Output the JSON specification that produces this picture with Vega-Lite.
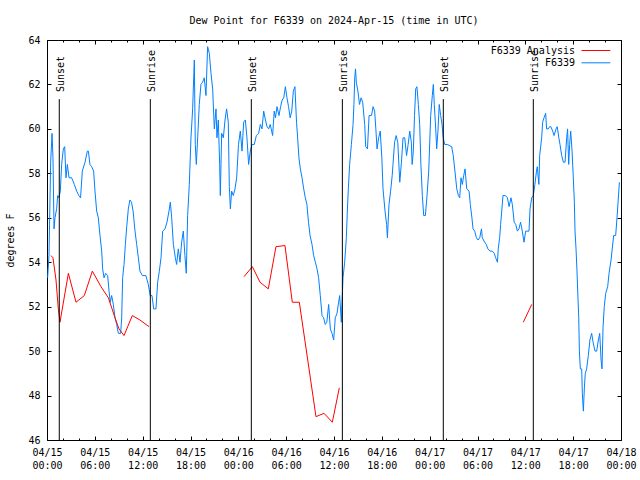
{
  "$schema": "https://vega.github.io/schema/vega-lite/v6.json",
  "width": 574,
  "height": 400,
  "autosize": {"type": "none"},
  "padding": {"left": 47, "top": 40, "right": 19, "bottom": 40},
  "background": "white",
  "title": {"text": "Dew Point for F6339 on 2024-Apr-15 (time in UTC)", "font": "DejaVu Sans Mono", "fontSize": 10, "fontWeight": "normal", "anchor": "middle", "baseline": "alphabetic", "offset": 1, "color": "black"},
  "config": {
    "view": {"stroke": "black", "strokeWidth": 1},
    "font": "DejaVu Sans Mono",
    "axis": {"domain": false, "grid": false, "tickColor": "black", "tickWidth": 1, "labelColor": "black", "titleColor": "black", "labelFont": "DejaVu Sans Mono", "labelFontSize": 10, "titleFont": "DejaVu Sans Mono", "titleFontSize": 10, "titleFontWeight": "normal", "labelOverlap": false}
  },
  "datasets": {
    "sun": [
      {"event": "Sunset", "hour": 1.54},
      {"event": "Sunrise", "hour": 12.96},
      {"event": "Sunset", "hour": 25.63},
      {"event": "Sunrise", "hour": 37.05},
      {"event": "Sunset", "hour": 49.71},
      {"event": "Sunrise", "hour": 61.0}
    ],
    "analysis": [
      {"segment": 1, "hour": 0.5, "dewpoint": 54.3},
      {"segment": 1, "hour": 0.75, "dewpoint": 54.2},
      {"segment": 1, "hour": 1.13, "dewpoint": 53.2},
      {"segment": 1, "hour": 1.42, "dewpoint": 51.9},
      {"segment": 1, "hour": 1.63, "dewpoint": 51.3},
      {"segment": 1, "hour": 2.68, "dewpoint": 53.5},
      {"segment": 1, "hour": 3.64, "dewpoint": 52.2},
      {"segment": 1, "hour": 4.68, "dewpoint": 52.5},
      {"segment": 1, "hour": 5.69, "dewpoint": 53.6},
      {"segment": 1, "hour": 6.77, "dewpoint": 52.9},
      {"segment": 1, "hour": 7.7, "dewpoint": 52.4},
      {"segment": 1, "hour": 8.53, "dewpoint": 51.5},
      {"segment": 1, "hour": 9.03, "dewpoint": 51.0},
      {"segment": 1, "hour": 9.66, "dewpoint": 50.7},
      {"segment": 1, "hour": 10.7, "dewpoint": 51.6},
      {"segment": 1, "hour": 11.66, "dewpoint": 51.4},
      {"segment": 1, "hour": 12.8, "dewpoint": 51.1},
      {"segment": 2, "hour": 24.71, "dewpoint": 53.35},
      {"segment": 2, "hour": 25.76, "dewpoint": 53.8},
      {"segment": 2, "hour": 26.72, "dewpoint": 53.1},
      {"segment": 2, "hour": 27.76, "dewpoint": 52.8},
      {"segment": 2, "hour": 28.72, "dewpoint": 54.7},
      {"segment": 2, "hour": 29.85, "dewpoint": 54.75},
      {"segment": 2, "hour": 30.77, "dewpoint": 52.2},
      {"segment": 2, "hour": 31.65, "dewpoint": 52.2},
      {"segment": 2, "hour": 33.74, "dewpoint": 47.05},
      {"segment": 2, "hour": 34.75, "dewpoint": 47.2},
      {"segment": 2, "hour": 35.79, "dewpoint": 46.8},
      {"segment": 2, "hour": 36.67, "dewpoint": 48.35},
      {"segment": 3, "hour": 59.75, "dewpoint": 51.3},
      {"segment": 3, "hour": 60.8, "dewpoint": 52.1}
    ],
    "station": [
      {"hour": 0.08, "dewpoint": 53.3}, {"hour": 0.25, "dewpoint": 54.3}, {"hour": 0.46, "dewpoint": 58.5}, {"hour": 0.63, "dewpoint": 59.8},
      {"hour": 0.75, "dewpoint": 58.7}, {"hour": 0.88, "dewpoint": 55.5}, {"hour": 1.0, "dewpoint": 56.0}, {"hour": 1.21, "dewpoint": 56.4},
      {"hour": 1.34, "dewpoint": 57.0}, {"hour": 1.5, "dewpoint": 56.9}, {"hour": 1.67, "dewpoint": 57.2}, {"hour": 1.84, "dewpoint": 58.4},
      {"hour": 2.05, "dewpoint": 59.1}, {"hour": 2.22, "dewpoint": 59.2}, {"hour": 2.38, "dewpoint": 57.8}, {"hour": 2.55, "dewpoint": 58.4},
      {"hour": 2.76, "dewpoint": 57.8}, {"hour": 3.09, "dewpoint": 57.8}, {"hour": 3.43, "dewpoint": 57.5}, {"hour": 3.72, "dewpoint": 57.2},
      {"hour": 4.0, "dewpoint": 57.0}, {"hour": 4.21, "dewpoint": 56.9}, {"hour": 4.43, "dewpoint": 58.1}, {"hour": 4.77, "dewpoint": 58.5},
      {"hour": 5.06, "dewpoint": 59.0}, {"hour": 5.19, "dewpoint": 59.0}, {"hour": 5.39, "dewpoint": 58.4}, {"hour": 5.6, "dewpoint": 58.3},
      {"hour": 5.85, "dewpoint": 58.1}, {"hour": 6.02, "dewpoint": 57.2}, {"hour": 6.23, "dewpoint": 56.3}, {"hour": 6.44, "dewpoint": 56.0},
      {"hour": 6.65, "dewpoint": 55.2}, {"hour": 6.86, "dewpoint": 54.5}, {"hour": 6.98, "dewpoint": 53.7}, {"hour": 7.15, "dewpoint": 53.3},
      {"hour": 7.36, "dewpoint": 53.5}, {"hour": 7.61, "dewpoint": 53.4}, {"hour": 7.78, "dewpoint": 52.7}, {"hour": 7.94, "dewpoint": 52.2},
      {"hour": 8.11, "dewpoint": 52.5}, {"hour": 8.32, "dewpoint": 52.1}, {"hour": 8.53, "dewpoint": 51.5}, {"hour": 8.74, "dewpoint": 51.2},
      {"hour": 8.95, "dewpoint": 50.8}, {"hour": 9.24, "dewpoint": 50.8}, {"hour": 9.37, "dewpoint": 51.5}, {"hour": 9.49, "dewpoint": 53.3},
      {"hour": 9.66, "dewpoint": 53.9}, {"hour": 9.83, "dewpoint": 54.8}, {"hour": 10.0, "dewpoint": 55.6}, {"hour": 10.2, "dewpoint": 56.4},
      {"hour": 10.4, "dewpoint": 56.8}, {"hour": 10.6, "dewpoint": 56.7}, {"hour": 10.8, "dewpoint": 56.3}, {"hour": 11.04, "dewpoint": 55.4},
      {"hour": 11.25, "dewpoint": 54.8}, {"hour": 11.46, "dewpoint": 54.2}, {"hour": 11.66, "dewpoint": 53.6}, {"hour": 11.96, "dewpoint": 53.4},
      {"hour": 12.4, "dewpoint": 53.4}, {"hour": 12.71, "dewpoint": 53.0}, {"hour": 12.95, "dewpoint": 52.5}, {"hour": 13.17, "dewpoint": 52.5},
      {"hour": 13.38, "dewpoint": 51.9}, {"hour": 13.67, "dewpoint": 51.9}, {"hour": 13.88, "dewpoint": 53.1}, {"hour": 14.09, "dewpoint": 53.6},
      {"hour": 14.3, "dewpoint": 54.2}, {"hour": 14.51, "dewpoint": 55.4}, {"hour": 14.8, "dewpoint": 55.5}, {"hour": 15.05, "dewpoint": 55.8},
      {"hour": 15.3, "dewpoint": 56.3}, {"hour": 15.47, "dewpoint": 56.7}, {"hour": 15.64, "dewpoint": 56.0}, {"hour": 15.85, "dewpoint": 54.8},
      {"hour": 16.1, "dewpoint": 54.2}, {"hour": 16.26, "dewpoint": 53.9}, {"hour": 16.47, "dewpoint": 54.6}, {"hour": 16.68, "dewpoint": 54.0},
      {"hour": 16.89, "dewpoint": 54.9}, {"hour": 17.1, "dewpoint": 55.4}, {"hour": 17.3, "dewpoint": 54.3}, {"hour": 17.47, "dewpoint": 53.5},
      {"hour": 17.64, "dewpoint": 56.1}, {"hour": 17.85, "dewpoint": 57.5}, {"hour": 18.06, "dewpoint": 59.6}, {"hour": 18.27, "dewpoint": 60.9},
      {"hour": 18.4, "dewpoint": 62.3}, {"hour": 18.48, "dewpoint": 63.1}, {"hour": 18.6, "dewpoint": 59.3}, {"hour": 18.73, "dewpoint": 58.4},
      {"hour": 18.9, "dewpoint": 59.6}, {"hour": 19.1, "dewpoint": 61.1}, {"hour": 19.31, "dewpoint": 62.0}, {"hour": 19.52, "dewpoint": 62.1},
      {"hour": 19.73, "dewpoint": 62.3}, {"hour": 19.94, "dewpoint": 61.5}, {"hour": 20.15, "dewpoint": 63.7}, {"hour": 20.36, "dewpoint": 63.4},
      {"hour": 20.57, "dewpoint": 62.5}, {"hour": 20.78, "dewpoint": 61.8}, {"hour": 20.99, "dewpoint": 60.0}, {"hour": 21.2, "dewpoint": 60.9},
      {"hour": 21.32, "dewpoint": 59.6}, {"hour": 21.49, "dewpoint": 60.4}, {"hour": 21.66, "dewpoint": 58.4}, {"hour": 21.74, "dewpoint": 57.0},
      {"hour": 21.91, "dewpoint": 59.8}, {"hour": 22.12, "dewpoint": 59.6}, {"hour": 22.33, "dewpoint": 60.4}, {"hour": 22.53, "dewpoint": 60.9},
      {"hour": 22.74, "dewpoint": 60.3}, {"hour": 22.87, "dewpoint": 57.4}, {"hour": 23.0, "dewpoint": 56.4}, {"hour": 23.16, "dewpoint": 57.2},
      {"hour": 23.37, "dewpoint": 57.0}, {"hour": 23.58, "dewpoint": 57.3}, {"hour": 23.79, "dewpoint": 57.8}, {"hour": 24.02, "dewpoint": 59.3},
      {"hour": 24.25, "dewpoint": 59.9}, {"hour": 24.46, "dewpoint": 59.0}, {"hour": 24.67, "dewpoint": 60.3}, {"hour": 24.88, "dewpoint": 60.4},
      {"hour": 25.08, "dewpoint": 59.6}, {"hour": 25.29, "dewpoint": 58.4}, {"hour": 25.5, "dewpoint": 59.0}, {"hour": 25.71, "dewpoint": 59.3},
      {"hour": 26.0, "dewpoint": 59.3}, {"hour": 26.26, "dewpoint": 59.7}, {"hour": 26.55, "dewpoint": 59.8}, {"hour": 26.76, "dewpoint": 60.2},
      {"hour": 26.97, "dewpoint": 60.0}, {"hour": 27.18, "dewpoint": 60.8}, {"hour": 27.4, "dewpoint": 60.4}, {"hour": 27.6, "dewpoint": 60.1},
      {"hour": 27.8, "dewpoint": 60.0}, {"hour": 28.0, "dewpoint": 60.2}, {"hour": 28.3, "dewpoint": 59.7}, {"hour": 28.5, "dewpoint": 60.8},
      {"hour": 28.66, "dewpoint": 60.5}, {"hour": 28.85, "dewpoint": 61.0}, {"hour": 29.1, "dewpoint": 60.6}, {"hour": 29.3, "dewpoint": 61.0},
      {"hour": 29.5, "dewpoint": 61.3}, {"hour": 29.7, "dewpoint": 61.4}, {"hour": 29.9, "dewpoint": 61.9}, {"hour": 30.1, "dewpoint": 61.4},
      {"hour": 30.3, "dewpoint": 61.0}, {"hour": 30.5, "dewpoint": 60.5}, {"hour": 30.7, "dewpoint": 60.8}, {"hour": 30.9, "dewpoint": 61.7},
      {"hour": 31.1, "dewpoint": 61.9}, {"hour": 31.3, "dewpoint": 60.3}, {"hour": 31.44, "dewpoint": 59.6}, {"hour": 31.6, "dewpoint": 58.7},
      {"hour": 31.78, "dewpoint": 58.2}, {"hour": 31.99, "dewpoint": 57.8}, {"hour": 32.2, "dewpoint": 57.3}, {"hour": 32.4, "dewpoint": 56.9},
      {"hour": 32.6, "dewpoint": 56.6}, {"hour": 32.8, "dewpoint": 55.8}, {"hour": 33.0, "dewpoint": 55.2}, {"hour": 33.24, "dewpoint": 54.8},
      {"hour": 33.45, "dewpoint": 54.3}, {"hour": 33.66, "dewpoint": 54.0}, {"hour": 33.87, "dewpoint": 53.7}, {"hour": 34.07, "dewpoint": 53.3},
      {"hour": 34.28, "dewpoint": 52.5}, {"hour": 34.5, "dewpoint": 51.6}, {"hour": 34.7, "dewpoint": 51.5}, {"hour": 34.9, "dewpoint": 51.2},
      {"hour": 35.1, "dewpoint": 51.3}, {"hour": 35.33, "dewpoint": 52.1}, {"hour": 35.54, "dewpoint": 51.0}, {"hour": 35.75, "dewpoint": 50.8},
      {"hour": 35.96, "dewpoint": 50.5}, {"hour": 36.16, "dewpoint": 51.5}, {"hour": 36.38, "dewpoint": 51.7}, {"hour": 36.58, "dewpoint": 52.2},
      {"hour": 36.71, "dewpoint": 52.5}, {"hour": 36.92, "dewpoint": 51.3}, {"hour": 37.13, "dewpoint": 53.3}, {"hour": 37.34, "dewpoint": 54.0},
      {"hour": 37.55, "dewpoint": 55.1}, {"hour": 37.67, "dewpoint": 56.3}, {"hour": 37.8, "dewpoint": 57.3}, {"hour": 37.96, "dewpoint": 58.4},
      {"hour": 38.18, "dewpoint": 59.3}, {"hour": 38.39, "dewpoint": 60.2}, {"hour": 38.5, "dewpoint": 61.1}, {"hour": 38.6, "dewpoint": 62.3},
      {"hour": 38.7, "dewpoint": 62.7}, {"hour": 38.8, "dewpoint": 62.1}, {"hour": 39.0, "dewpoint": 61.7}, {"hour": 39.2, "dewpoint": 61.1},
      {"hour": 39.4, "dewpoint": 61.4}, {"hour": 39.6, "dewpoint": 61.2}, {"hour": 39.85, "dewpoint": 60.2}, {"hour": 39.98, "dewpoint": 59.2},
      {"hour": 40.2, "dewpoint": 59.1}, {"hour": 40.4, "dewpoint": 60.6}, {"hour": 40.7, "dewpoint": 60.6}, {"hour": 40.9, "dewpoint": 61.0},
      {"hour": 41.1, "dewpoint": 60.8}, {"hour": 41.25, "dewpoint": 60.0}, {"hour": 41.4, "dewpoint": 59.1}, {"hour": 41.6, "dewpoint": 59.6},
      {"hour": 41.8, "dewpoint": 59.9}, {"hour": 42.0, "dewpoint": 58.7}, {"hour": 42.15, "dewpoint": 57.3}, {"hour": 42.4, "dewpoint": 56.3},
      {"hour": 42.6, "dewpoint": 55.7}, {"hour": 42.7, "dewpoint": 55.1}, {"hour": 42.9, "dewpoint": 56.6}, {"hour": 43.1, "dewpoint": 57.2},
      {"hour": 43.3, "dewpoint": 57.9}, {"hour": 43.4, "dewpoint": 58.4}, {"hour": 43.6, "dewpoint": 59.4}, {"hour": 43.8, "dewpoint": 59.7},
      {"hour": 44.0, "dewpoint": 59.4}, {"hour": 44.25, "dewpoint": 57.6}, {"hour": 44.46, "dewpoint": 58.5}, {"hour": 44.66, "dewpoint": 59.6},
      {"hour": 44.87, "dewpoint": 59.6}, {"hour": 45.1, "dewpoint": 58.8}, {"hour": 45.3, "dewpoint": 59.3}, {"hour": 45.5, "dewpoint": 59.9},
      {"hour": 45.7, "dewpoint": 59.4}, {"hour": 45.8, "dewpoint": 58.4}, {"hour": 45.95, "dewpoint": 59.0}, {"hour": 46.1, "dewpoint": 60.6},
      {"hour": 46.25, "dewpoint": 61.8}, {"hour": 46.4, "dewpoint": 61.9}, {"hour": 46.58, "dewpoint": 61.1}, {"hour": 46.75, "dewpoint": 60.2},
      {"hour": 46.9, "dewpoint": 58.4}, {"hour": 47.08, "dewpoint": 57.0}, {"hour": 47.25, "dewpoint": 56.1}, {"hour": 47.46, "dewpoint": 56.1},
      {"hour": 47.67, "dewpoint": 57.0}, {"hour": 47.88, "dewpoint": 58.1}, {"hour": 48.13, "dewpoint": 60.6}, {"hour": 48.33, "dewpoint": 61.5},
      {"hour": 48.46, "dewpoint": 62.0}, {"hour": 48.58, "dewpoint": 61.1}, {"hour": 48.76, "dewpoint": 60.0}, {"hour": 48.88, "dewpoint": 59.1},
      {"hour": 49.04, "dewpoint": 59.9}, {"hour": 49.2, "dewpoint": 61.1}, {"hour": 49.38, "dewpoint": 60.6}, {"hour": 49.55, "dewpoint": 60.2},
      {"hour": 49.7, "dewpoint": 59.6}, {"hour": 49.88, "dewpoint": 59.3}, {"hour": 50.2, "dewpoint": 59.3}, {"hour": 50.76, "dewpoint": 59.2},
      {"hour": 50.96, "dewpoint": 58.8}, {"hour": 51.17, "dewpoint": 58.1}, {"hour": 51.4, "dewpoint": 57.3}, {"hour": 51.6, "dewpoint": 57.0},
      {"hour": 51.77, "dewpoint": 56.9}, {"hour": 51.93, "dewpoint": 57.8}, {"hour": 52.1, "dewpoint": 57.5}, {"hour": 52.27, "dewpoint": 57.9},
      {"hour": 52.44, "dewpoint": 58.2}, {"hour": 52.65, "dewpoint": 57.3}, {"hour": 52.94, "dewpoint": 57.2}, {"hour": 53.1, "dewpoint": 56.6},
      {"hour": 53.3, "dewpoint": 56.0}, {"hour": 53.44, "dewpoint": 55.5}, {"hour": 53.65, "dewpoint": 55.4}, {"hour": 53.86, "dewpoint": 55.1},
      {"hour": 54.07, "dewpoint": 55.0}, {"hour": 54.28, "dewpoint": 55.1}, {"hour": 54.5, "dewpoint": 55.5}, {"hour": 54.6, "dewpoint": 55.1},
      {"hour": 54.9, "dewpoint": 54.9}, {"hour": 55.1, "dewpoint": 54.8}, {"hour": 55.3, "dewpoint": 54.6}, {"hour": 55.57, "dewpoint": 54.5},
      {"hour": 55.86, "dewpoint": 54.5}, {"hour": 56.1, "dewpoint": 54.4}, {"hour": 56.28, "dewpoint": 54.2}, {"hour": 56.5, "dewpoint": 54.0},
      {"hour": 56.6, "dewpoint": 54.6}, {"hour": 56.78, "dewpoint": 55.1}, {"hour": 56.9, "dewpoint": 55.7}, {"hour": 57.04, "dewpoint": 56.3},
      {"hour": 57.2, "dewpoint": 57.0}, {"hour": 57.5, "dewpoint": 57.0}, {"hour": 57.75, "dewpoint": 56.9}, {"hour": 57.96, "dewpoint": 56.5},
      {"hour": 58.2, "dewpoint": 56.9}, {"hour": 58.37, "dewpoint": 56.6}, {"hour": 58.6, "dewpoint": 55.8}, {"hour": 58.8, "dewpoint": 55.7},
      {"hour": 59.0, "dewpoint": 55.4}, {"hour": 59.2, "dewpoint": 55.5}, {"hour": 59.4, "dewpoint": 55.8}, {"hour": 59.62, "dewpoint": 55.4},
      {"hour": 59.83, "dewpoint": 54.9}, {"hour": 60.04, "dewpoint": 55.4}, {"hour": 60.46, "dewpoint": 55.4}, {"hour": 60.59, "dewpoint": 56.4},
      {"hour": 60.8, "dewpoint": 56.9}, {"hour": 61.0, "dewpoint": 57.0}, {"hour": 61.2, "dewpoint": 57.5}, {"hour": 61.4, "dewpoint": 58.1},
      {"hour": 61.5, "dewpoint": 58.3}, {"hour": 61.7, "dewpoint": 57.5}, {"hour": 61.8, "dewpoint": 58.8}, {"hour": 62.05, "dewpoint": 59.6},
      {"hour": 62.17, "dewpoint": 60.3}, {"hour": 62.34, "dewpoint": 60.5}, {"hour": 62.55, "dewpoint": 60.7}, {"hour": 62.67, "dewpoint": 60.0},
      {"hour": 62.88, "dewpoint": 60.0}, {"hour": 63.05, "dewpoint": 60.1}, {"hour": 63.2, "dewpoint": 60.1}, {"hour": 63.43, "dewpoint": 59.9},
      {"hour": 63.6, "dewpoint": 59.7}, {"hour": 63.85, "dewpoint": 60.0}, {"hour": 64.0, "dewpoint": 60.1}, {"hour": 64.2, "dewpoint": 59.6},
      {"hour": 64.35, "dewpoint": 59.3}, {"hour": 64.56, "dewpoint": 58.8}, {"hour": 64.77, "dewpoint": 58.5}, {"hour": 64.98, "dewpoint": 58.5},
      {"hour": 65.19, "dewpoint": 59.6}, {"hour": 65.3, "dewpoint": 60.0}, {"hour": 65.44, "dewpoint": 58.4}, {"hour": 65.56, "dewpoint": 59.3},
      {"hour": 65.69, "dewpoint": 59.9}, {"hour": 65.86, "dewpoint": 59.0}, {"hour": 66.02, "dewpoint": 57.8}, {"hour": 66.15, "dewpoint": 56.7},
      {"hour": 66.23, "dewpoint": 55.4}, {"hour": 66.36, "dewpoint": 54.6}, {"hour": 66.48, "dewpoint": 53.6}, {"hour": 66.57, "dewpoint": 52.7},
      {"hour": 66.7, "dewpoint": 51.5}, {"hour": 66.78, "dewpoint": 50.0}, {"hour": 66.9, "dewpoint": 49.2}, {"hour": 67.07, "dewpoint": 49.2},
      {"hour": 67.15, "dewpoint": 48.1}, {"hour": 67.28, "dewpoint": 47.3}, {"hour": 67.4, "dewpoint": 48.3}, {"hour": 67.52, "dewpoint": 49.0},
      {"hour": 67.69, "dewpoint": 49.2}, {"hour": 67.9, "dewpoint": 49.8}, {"hour": 68.1, "dewpoint": 50.5}, {"hour": 68.32, "dewpoint": 50.8},
      {"hour": 68.5, "dewpoint": 50.4}, {"hour": 68.74, "dewpoint": 50.0}, {"hour": 68.95, "dewpoint": 50.0}, {"hour": 69.16, "dewpoint": 50.5},
      {"hour": 69.33, "dewpoint": 50.8}, {"hour": 69.5, "dewpoint": 49.6}, {"hour": 69.62, "dewpoint": 49.2}, {"hour": 69.75, "dewpoint": 51.1},
      {"hour": 69.9, "dewpoint": 52.0}, {"hour": 70.08, "dewpoint": 52.6}, {"hour": 70.33, "dewpoint": 52.9}, {"hour": 70.5, "dewpoint": 53.5},
      {"hour": 70.75, "dewpoint": 54.1}, {"hour": 70.9, "dewpoint": 54.6}, {"hour": 71.08, "dewpoint": 55.2}, {"hour": 71.33, "dewpoint": 55.2},
      {"hour": 71.5, "dewpoint": 56.0}, {"hour": 71.63, "dewpoint": 56.7}, {"hour": 71.8, "dewpoint": 57.6}
    ]
  },
  "layer": [
    {
      "data": {"name": "station"},
      "mark": {"type": "line", "strokeWidth": 1, "clip": true},
      "encoding": {
        "x": {"field": "hour", "type": "quantitative", "scale": {"domain": [0, 72], "nice": false, "zero": false},
              "axis": {"orient": "bottom", "title": null, "values": [0, 6, 12, 18, 24, 30, 36, 42, 48, 54, 60, 66, 72], "tickSize": -4, "labelPadding": 11, "labelBaseline": "top", "labelLineHeight": 13.5, "labelFlush": false,
                       "labelExpr": "['04/' + (15 + floor(datum.value / 24)), (datum.value % 24 < 10 ? '0' : '') + (datum.value % 24) + ':00']"}},
        "y": {"field": "dewpoint", "type": "quantitative", "scale": {"domain": [46, 64], "nice": false, "zero": false},
              "axis": {"orient": "left", "title": "degrees F", "values": [46, 48, 50, 52, 54, 56, 58, 60, 62, 64], "tickSize": -4, "labelPadding": 11, "titlePadding": 12}},
        "color": {"datum": "F6339", "scale": {"domain": ["F6339 Analysis", "F6339"], "range": ["#ff0000", "#0080ff"]},
                  "legend": {"orient": "none", "legendX": 542.4, "legendY": 4, "title": null, "symbolType": "M-2.4,0H2.4", "symbolSize": 144, "symbolStrokeWidth": 1, "labelAlign": "right", "labelOffset": -27.4, "padding": 0, "rowPadding": 0.3, "labelFont": "DejaVu Sans Mono", "labelFontSize": 10, "labelColor": "black"}}
      }
    },
    {
      "data": {"name": "analysis"},
      "mark": {"type": "line", "strokeWidth": 1, "clip": true},
      "encoding": {
        "x": {"field": "hour", "type": "quantitative",
              "axis": {"orient": "top", "title": null, "values": [0, 2, 4, 6, 8, 10, 12, 14, 16, 18, 20, 22, 24, 26, 28, 30, 32, 34, 36, 38, 40, 42, 44, 46, 48, 50, 52, 54, 56, 58, 60, 62, 64, 66, 68, 70, 72], "tickSize": -2, "labels": false}},
        "y": {"field": "dewpoint", "type": "quantitative", "axis": null},
        "detail": {"field": "segment", "type": "nominal"},
        "color": {"datum": "F6339 Analysis"}
      }
    },
    {
      "data": {"name": "sun"},
      "mark": {"type": "rule", "color": "black", "strokeWidth": 1},
      "encoding": {
        "x": {"field": "hour", "type": "quantitative",
              "axis": {"orient": "top", "title": null, "values": [0, 6, 12, 18, 24, 30, 36, 42, 48, 54, 60, 66, 72], "tickSize": -4, "labels": false}},
        "y": {"datum": 61.34, "type": "quantitative", "axis": {"orient": "right", "title": null, "values": [46, 48, 50, 52, 54, 56, 58, 60, 62, 64], "tickSize": -4, "labels": false}},
        "y2": {"datum": 46}
      }
    },
    {
      "data": {"name": "sun"},
      "mark": {"type": "text", "angle": 270, "align": "left", "baseline": "alphabetic", "dy": 5, "font": "DejaVu Sans Mono", "fontSize": 10, "color": "black"},
      "encoding": {
        "x": {"field": "hour", "type": "quantitative",
              "axis": {"orient": "bottom", "title": null, "values": [0, 2, 4, 6, 8, 10, 12, 14, 16, 18, 20, 22, 24, 26, 28, 30, 32, 34, 36, 38, 40, 42, 44, 46, 48, 50, 52, 54, 56, 58, 60, 62, 64, 66, 68, 70, 72], "tickSize": -2, "labels": false}},
        "y": {"datum": 61.66, "type": "quantitative", "axis": null},
        "text": {"field": "event", "type": "nominal"}
      }
    }
  ],
  "resolve": {"axis": {"x": "independent", "y": "independent"}}
}
